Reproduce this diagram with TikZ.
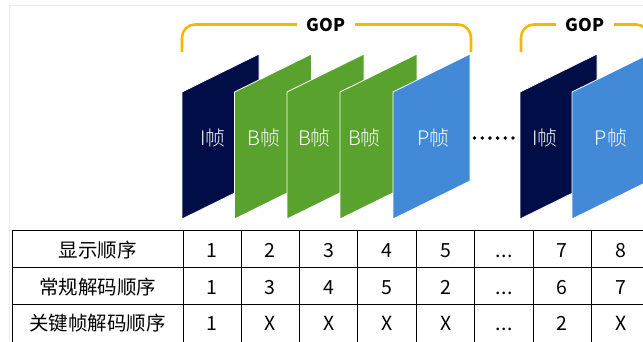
\documentclass[tikz,border=0pt]{standalone}
\usepackage{fontspec}
\setmainfont{Noto Sans CJK SC}
\newfontfamily\lightcjk{Noto Sans CJK SC Light}
\definecolor{inavy}{HTML}{000D47}
\definecolor{bgreen}{HTML}{5AA22E}
\definecolor{pblue}{HTML}{428AD8}
\definecolor{gopgold}{HTML}{F7B600}
% one picture frame: parallelogram with its left edge at x = #1
\newcommand\picframe[2]{%
  \filldraw[fill=#2, pframe] (#1,219) -- (#1,92) -- ++(77,-38) -- ++(0,127) -- cycle;}
% three baseline dots for the skipped columns
\newcommand\skipdots{.\kern0.6pt.\kern0.6pt.}
\begin{document}
\begin{tikzpicture}[x=1pt,y=-1pt,
  pframe/.style={draw=white,line width=0.8pt},
  lbl/.style={text=white,font=\lightcjk\fontsize{20}{24}\selectfont,inner sep=0pt,anchor=base},
  brace/.style={draw=gopgold,line width=2.6pt,rounded corners=13pt},
  goptxt/.style={font=\bfseries\fontsize{17.5}{20}\selectfont,inner xsep=9.5pt,inner ysep=0pt},
  gridline/.style={line width=1pt},
  cell/.style={font=\fontsize{19.5}{22}\selectfont,inner sep=0pt,anchor=base}]
\useasboundingbox (0,0) rectangle (643,341);
\clip (0,0) rectangle (643,341);

% faint page border
\draw[black!7,line width=0.8pt] (9,341) -- (9,5) -- (643,5);

% first group of pictures
\picframe{182}{inavy}
\picframe{234.5}{bgreen}
\picframe{287}{bgreen}
\picframe{340}{bgreen}
\picframe{393}{pblue}
\node[lbl] (fi1) at (213,145) {I帧};
\node[lbl] (fb1) at (264,145) {B帧};
\node[lbl] (fb2) at (314.5,145) {B帧};
\node[lbl] (fb3) at (364.5,145) {B帧};
\node[lbl] (fp1) at (433.5,145) {P帧};

% gap between groups
\foreach \i in {0,...,5}
  \fill (474.5+7.7*\i,138) circle (1.9pt);

% second group of pictures
\picframe{520}{inavy}
\picframe{572}{pblue}
\node[lbl] (fi2) at (545,145) {I帧};
\node[lbl] (fp2) at (611,145) {P帧};

% GOP braces
\node[goptxt] (gop1) at (326,24.5) {GOP};
\node[goptxt] (gop2) at (585,24.5) {GOP};
\draw[brace] (gop1.west) -- (182,24.5) -- (182,52);
\draw[brace] (gop1.east) -- (471,24.5) -- (471,52);
\draw[brace] (gop2.west) -- (521,24.5) -- (521,52);
\draw[brace] (gop2.east) -- (649,24.5) -- (649,52);

% order table
\foreach \y in {230,267,304}
  \draw[gridline] (12,\y) -- (650,\y);
\foreach \x in {12,183,241,299,357,416,474,533,591,649}
  \draw[gridline] (\x,230) -- (\x,343);

\foreach \txt [count=\c] in {显示顺序,1,2,3,4,5,\skipdots,7,8}
  \node[cell] (r1c\c) at ({\c==1 ? 97.5 : 212+58.4*(\c-2)},257) {\txt};
\foreach \txt [count=\c] in {常规解码顺序,1,3,4,5,2,\skipdots,6,7}
  \node[cell] (r2c\c) at ({\c==1 ? 97.5 : 212+58.4*(\c-2)},294) {\txt};
\foreach \txt [count=\c] in {关键帧解码顺序,1,X,X,X,X,\skipdots,2,X}
  \node[cell] (r3c\c) at ({\c==1 ? 97.5 : 212+58.4*(\c-2)},330) {\txt};
\end{tikzpicture}
\end{document}
